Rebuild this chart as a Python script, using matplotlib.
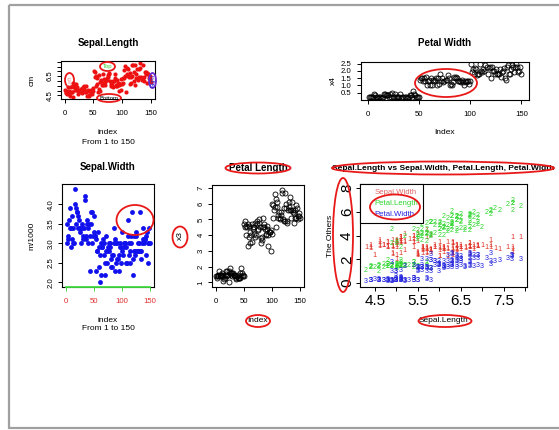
import numpy as np
import matplotlib
matplotlib.use("Agg")
import matplotlib.pyplot as plt
from matplotlib.patches import Ellipse, Rectangle
from matplotlib.lines import Line2D

plt.rcParams['font.family'] = ['Liberation Sans', 'DejaVu Sans']

# iris measurements, rows 1..150
sepal_length = [5.1, 4.9, 4.7, 4.6, 5.0, 5.4, 4.6, 5.0, 4.4, 4.9, 5.4, 4.8, 4.8, 4.3, 5.8, 5.7, 5.4, 5.1, 5.7, 5.1,
                5.4, 5.1, 4.6, 5.1, 4.8, 5.0, 5.0, 5.2, 5.2, 4.7, 4.8, 5.4, 5.2, 5.5, 4.9, 5.0, 5.5, 4.9, 4.4, 5.1,
                5.0, 4.5, 4.4, 5.0, 5.1, 4.8, 5.1, 4.6, 5.3, 5.0,
                7.0, 6.4, 6.9, 5.5, 6.5, 5.7, 6.3, 4.9, 6.6, 5.2, 5.0, 5.9, 6.0, 6.1, 5.6, 6.7, 5.6, 5.8, 6.2, 5.6,
                5.9, 6.1, 6.3, 6.1, 6.4, 6.6, 6.8, 6.7, 6.0, 5.7, 5.5, 5.5, 5.8, 6.0, 5.4, 6.0, 6.7, 6.3, 5.6, 5.5,
                5.5, 6.1, 5.8, 5.0, 5.6, 5.7, 5.7, 6.2, 5.1, 5.7,
                6.3, 5.8, 7.1, 6.3, 6.5, 7.6, 4.9, 7.3, 6.7, 7.2, 6.5, 6.4, 6.8, 5.7, 5.8, 6.4, 6.5, 7.7, 7.7, 6.0,
                6.9, 5.6, 7.7, 6.3, 6.7, 7.2, 6.2, 6.1, 6.4, 7.2, 7.4, 7.9, 6.4, 6.3, 6.1, 7.7, 6.3, 6.4, 6.0, 6.9,
                6.7, 6.9, 5.8, 6.8, 6.7, 6.7, 6.3, 6.5, 6.2, 5.9]
sepal_width = [3.5, 3.0, 3.2, 3.1, 3.6, 3.9, 3.4, 3.4, 2.9, 3.1, 3.7, 3.4, 3.0, 3.0, 4.0, 4.4, 3.9, 3.5, 3.8, 3.8,
               3.4, 3.7, 3.6, 3.3, 3.4, 3.0, 3.4, 3.5, 3.4, 3.2, 3.1, 3.4, 4.1, 4.2, 3.1, 3.2, 3.5, 3.6, 3.0, 3.4,
               3.5, 2.3, 3.2, 3.5, 3.8, 3.0, 3.8, 3.2, 3.7, 3.3,
               3.2, 3.2, 3.1, 2.3, 2.8, 2.8, 3.3, 2.4, 2.9, 2.7, 2.0, 3.0, 2.2, 2.9, 2.9, 3.1, 3.0, 2.7, 2.2, 2.5,
               3.2, 2.8, 2.5, 2.8, 2.9, 3.0, 2.8, 3.0, 2.9, 2.6, 2.4, 2.4, 2.7, 2.7, 3.0, 3.4, 3.1, 2.3, 3.0, 2.5,
               2.6, 3.0, 2.6, 2.3, 2.7, 3.0, 2.9, 2.9, 2.5, 2.8,
               3.3, 2.7, 3.0, 2.9, 3.0, 3.0, 2.5, 2.9, 2.5, 3.6, 3.2, 2.7, 3.0, 2.5, 2.8, 3.2, 3.0, 3.8, 2.6, 2.2,
               3.2, 2.8, 2.8, 2.7, 3.3, 3.2, 2.8, 3.0, 2.8, 3.0, 2.8, 3.8, 2.8, 2.8, 2.6, 3.0, 3.4, 3.1, 3.0, 3.1,
               3.1, 3.1, 2.7, 3.2, 3.3, 3.0, 2.5, 3.0, 3.4, 3.0]
petal_length = [1.4, 1.4, 1.3, 1.5, 1.4, 1.7, 1.4, 1.5, 1.4, 1.5, 1.5, 1.6, 1.4, 1.1, 1.2, 1.5, 1.3, 1.4, 1.7, 1.5,
                1.7, 1.5, 1.0, 1.7, 1.9, 1.6, 1.6, 1.5, 1.4, 1.6, 1.6, 1.5, 1.5, 1.4, 1.5, 1.2, 1.3, 1.4, 1.3, 1.5,
                1.3, 1.3, 1.3, 1.6, 1.9, 1.4, 1.6, 1.4, 1.5, 1.4,
                4.7, 4.5, 4.9, 4.0, 4.6, 4.5, 4.7, 3.3, 4.6, 3.9, 3.5, 4.2, 4.0, 4.7, 3.6, 4.4, 4.5, 4.1, 4.5, 3.9,
                4.8, 4.0, 4.9, 4.7, 4.3, 4.4, 4.8, 5.0, 4.5, 3.5, 3.8, 3.7, 3.9, 5.1, 4.5, 4.5, 4.7, 4.4, 4.1, 4.0,
                4.4, 4.6, 4.0, 3.3, 4.2, 4.2, 4.2, 4.3, 3.0, 4.1,
                6.0, 5.1, 5.9, 5.6, 5.8, 6.6, 4.5, 6.3, 5.8, 6.1, 5.1, 5.3, 5.5, 5.0, 5.1, 5.3, 5.5, 6.7, 6.9, 5.0,
                5.7, 4.9, 6.7, 4.9, 5.7, 6.0, 4.8, 4.9, 5.6, 5.8, 6.1, 6.4, 5.6, 5.1, 5.6, 6.1, 5.6, 5.5, 4.8, 5.4,
                5.6, 5.1, 5.1, 5.9, 5.7, 5.2, 5.0, 5.2, 5.4, 5.1]
petal_width = [0.2, 0.2, 0.2, 0.2, 0.2, 0.4, 0.3, 0.2, 0.2, 0.1, 0.2, 0.2, 0.1, 0.1, 0.2, 0.4, 0.4, 0.3, 0.3, 0.3,
               0.2, 0.4, 0.2, 0.5, 0.2, 0.2, 0.4, 0.2, 0.2, 0.2, 0.2, 0.4, 0.1, 0.2, 0.2, 0.2, 0.2, 0.1, 0.2, 0.2,
               0.3, 0.3, 0.2, 0.6, 0.4, 0.3, 0.2, 0.2, 0.2, 0.2,
               1.4, 1.5, 1.5, 1.3, 1.5, 1.3, 1.6, 1.0, 1.3, 1.4, 1.0, 1.5, 1.0, 1.4, 1.3, 1.4, 1.5, 1.0, 1.5, 1.1,
               1.8, 1.3, 1.5, 1.2, 1.3, 1.4, 1.4, 1.7, 1.5, 1.0, 1.1, 1.0, 1.2, 1.6, 1.5, 1.6, 1.5, 1.3, 1.3, 1.3,
               1.2, 1.4, 1.2, 1.0, 1.3, 1.2, 1.3, 1.3, 1.1, 1.3,
               2.5, 1.9, 2.1, 1.8, 2.2, 2.1, 1.7, 1.8, 1.8, 2.5, 2.0, 1.9, 2.1, 2.0, 2.4, 2.3, 1.8, 2.2, 2.3, 1.5,
               2.3, 2.0, 2.0, 1.8, 2.1, 1.8, 1.8, 1.8, 2.1, 1.6, 1.9, 2.0, 2.2, 1.5, 1.4, 2.3, 2.4, 1.8, 1.8, 2.1,
               2.4, 2.3, 1.9, 2.3, 2.5, 2.3, 1.9, 2.0, 2.3, 1.8]
index = np.arange(1, len(sepal_length) + 1)

idx_ticks = [0, 50, 100, 150]
others = ["Sepal.Width", "Petal.Length", "Petal.Width"]
other_cols = ["#E0352A", "#2ED62E", "#2323DD"]

W, H, DPI = 559, 430, 100
PT = 72 / DPI
fig = plt.figure(figsize=(W / DPI, H / DPI), dpi=DPI)


def px_axes(x0, y0, x1, y1):
    return fig.add_axes([x0 / W, 1 - y1 / H, (x1 - x0) / W, (y1 - y0) / H])


def style(ax, fs=5.6, xpad=5.0, ypad=2.5):
    ax.tick_params(direction="out", length=4 * PT, width=0.7, labelsize=fs)
    ax.tick_params(axis="x", pad=xpad)
    ax.tick_params(axis="y", pad=ypad)
    for s in ax.spines.values():
        s.set_linewidth(0.8)


def txt(ax, s, where, off, fs=6.0, **kw):
    xy = {"below": (0.5, 0), "left": (0, 0.5), "above": (0.5, 1)}[where]
    d = {"below": (0, -off * PT), "left": (-off * PT, 0), "above": (0, off * PT)}[where]
    rot = 90 if where == "left" else 0
    ax.annotate(s, xy=xy, xycoords="axes fraction", xytext=d, textcoords="offset points",
                ha="center", va="center", rotation=rot, fontsize=fs, **kw)


# Sepal.Length vs index
ax1 = px_axes(61, 61, 155, 99)
ax1.plot(index, sepal_length, "o", color="#EE1111", ms=3.0, mew=0)
ax1.set_xticks(idx_ticks)
ax1.set_yticks(np.arange(4.5, 8.01, 0.5), ["4.5", "", "", "", "6.5", "", "", ""], rotation=90, va="center")
style(ax1)
txt(ax1, "Sepal.Length", "above", 18, fs=7.0, weight="bold")
txt(ax1, "cm", "left", 29)
txt(ax1, "index", "below", 34)
txt(ax1, "From 1 to 150", "below", 44)

# Petal.Width vs index
ax2 = px_axes(361, 62, 529, 100)
ax2.plot(index, petal_width, "o", mfc="none", mec="black", ms=3.6, mew=0.6)
ax2.set_xticks(idx_ticks)
ax2.set_yticks([0.5, 1.0, 1.5, 2.0, 2.5])
style(ax2, ypad=4)
txt(ax2, "Petal Width", "above", 19, fs=7.0, weight="bold")
txt(ax2, "x4", "left", 28)
txt(ax2, "Index", "below", 33)

# Sepal.Width vs index
ax3 = px_axes(62, 184, 154, 287)
ax3.plot(index, sepal_width, "o", color="#1111EE", ms=3.5, mew=0)
ax3.set_xticks(idx_ticks)
ax3.set_yticks([2.0, 2.5, 3.0, 3.5, 4.0], ["2.0", "2.5", "3.0", "3.5", "4.0"], rotation=90, va="center")
style(ax3)
ax3.tick_params(axis="x", color="#44DD44", labelcolor="#E03030")
ax3.plot(idx_ticks[::3], [0, 0], transform=ax3.get_xaxis_transform(), color="#44DD44",
         lw=1.3, clip_on=False, zorder=5)
txt(ax3, "Sepal.Width", "above", 17, fs=7.0, weight="bold")
txt(ax3, "m/1000", "left", 30)
txt(ax3, "index", "below", 33)
txt(ax3, "From 1 to 150", "below", 42)

# Petal.Length vs index
ax4 = px_axes(212, 185, 304, 287)
ax4.plot(index, petal_length, "o", mfc="none", mec="black", ms=3.6, mew=0.6)
ax4.set_xticks(idx_ticks)
ax4.set_yticks(range(1, 8), [str(v) for v in range(1, 8)], rotation=90, va="center")
style(ax4)
txt(ax4, "Petal Length", "above", 17, fs=7.0, weight="bold")
txt(ax4, "x3", "left", 32)
txt(ax4, "Index", "below", 34)

# Sepal.Length vs the others, drawn as 1 / 2 / 3 characters
ax5 = px_axes(360, 184, 527, 287)
for k, (vals, col) in enumerate(zip([sepal_width, petal_length, petal_width], other_cols)):
    for xv, yv in zip(sepal_length, vals):
        ax5.text(xv, yv, str(k + 1), color=col, fontsize=5.2, ha="center", va="center")
ax5.set_xlim(4.156, 8.044)
ax5.set_ylim(-0.32, 8.32)
ax5.set_xticks(np.arange(4.5, 8.01, 0.5), ["4.5", "", "5.5", "", "6.5", "", "7.5", ""])
ax5.set_yticks([0, 2, 4, 6, 8], ["0", "2", "4", "6", "8"], rotation=90, va="center")
style(ax5, fs=11, xpad=2.5, ypad=1.5)
leg = ax5.legend(handles=[Line2D([], [], linestyle="none")] * 3, labels=others, loc="upper left",
                 borderaxespad=0, handlelength=0.8, handletextpad=0.45, borderpad=0.6,
                 labelspacing=0.45, fontsize=5.6, fancybox=False, edgecolor="black", framealpha=1)
leg.get_frame().set_linewidth(0.8)
for t, c in zip(leg.get_texts(), ["#E06666", other_cols[1], other_cols[2]]):
    t.set_color(c)
txt(ax5, "Sepal.Length vs Sepal.Width, Petal.Length, Petal.Width", "above", 16, fs=6.0, weight="bold")
txt(ax5, "The Others", "left", 30)
txt(ax5, "Sepal.Length", "below", 34)

# overlay in pixel units for the hand-drawn rings, margin notes and window frame
ov = fig.add_axes([0, 0, 1, 1], zorder=10)
ov.set_xlim(0, W)
ov.set_ylim(H, 0)
ov.axis("off")
ov.patch.set_alpha(0)
ov.add_patch(Rectangle((9, 5), 600, 423, fill=False, edgecolor="#A0A0A0", lw=1.6))

rings = [((69.5, 80), 9, 14), ((107.5, 66.5), 15, 9), ((109, 98), 24, 8),
         ((135, 220), 37, 30), ((446, 83), 62, 28), ((258, 168), 65, 11),
         ((180, 237), 15, 21), ((258, 321), 24, 12), ((443, 168), 222, 13),
         ((343, 235), 20, 114), ((395, 207), 50, 25), ((445, 321), 53, 12)]
for c, w, h in rings:
    ov.add_patch(Ellipse(c, w, h, fill=False, edgecolor="#E81818", lw=1.3))
ov.add_patch(Ellipse((152.5, 80.5), 7, 15, fill=False, edgecolor="#6A2BD0", lw=1.3))
ov.text(107.5, 66.5, "Top", color="#33CC33", fontsize=4.3, ha="center", va="center")
ov.text(109, 98, "Bottom", color="black", fontsize=4.3, ha="center", va="center")
ov.text(69.5, 80, "Left", color="#F09090", fontsize=4.0, ha="center", va="center", rotation=90)
ov.text(152.5, 80.5, "Right", color="#2222DD", fontsize=4.0, ha="center", va="center", rotation=90)

fig.savefig("out.png", dpi=DPI)
